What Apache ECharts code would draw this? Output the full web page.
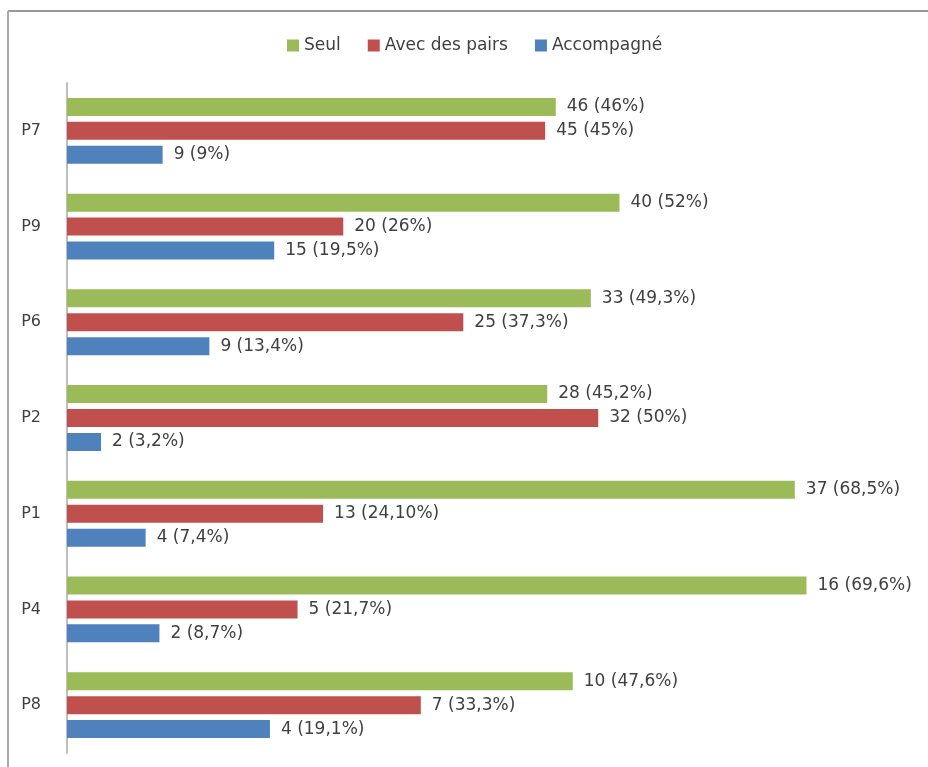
<!DOCTYPE html>
<html><head><meta charset="utf-8">
<script src="https://cdn.jsdelivr.net/npm/echarts@6/dist/echarts.min.js"></script>
<style>html,body{margin:0;padding:0;background:#fff}#c{width:928px;height:767px}</style>
</head><body><div id="c"></div>
<script>
const categories = ['P7','P9','P6','P2','P1','P4','P8'];
const seriesNames = ['Seul','Avec des pairs','Accompagné'];
const seulCount = [46,40,33,28,37,16,10];
const seulPct   = ['46','52','49,3','45,2','68,5','69,6','47,6'];
const pairsCount = [45,20,25,32,13,5,7];
const pairsPct   = ['45','26','37,3','50','24,10','21,7','33,3'];
const accCount = [9,15,9,2,4,2,4];
const accPct   = ['9','19,5','13,4','3,2','7,4','8,7','19,1'];
const colors = ['#9BBB59','#C0504D','#4F81BD'];

const FONT = 'DejaVu Sans';
const toNum = s => parseFloat(s.replace(',', '.'));
function mk(name, counts, pcts, color){
  return {
    name, type:'bar', barWidth:18, barGap:'33%',
    itemStyle:{color},
    data: pcts.map((p,i)=>({value: toNum(p), c: counts[i], p})),
    label:{show:true, position:'right', distance:11, color:'#404040',
      fontFamily:FONT, fontSize:17,
      formatter: d => d.data.c + ' (' + d.data.p + '%)'}
  };
}
const chart = echarts.init(document.getElementById('c'));
chart.setOption({
  animation:false,
  legend:{top:32, left:282, itemWidth:12, itemHeight:12, itemGap:27,
    icon:'rect', textStyle:{color:'#404040', fontFamily:FONT, fontSize:17},
    data: seriesNames},
  grid:{left:67, top:83, width:850, height:670},
  xAxis:{type:'value', min:0, max:80, show:false},
  yAxis:{type:'category', data:categories, inverse:true,
    axisLine:{lineStyle:{color:'#BFBFBF', width:2}}, axisTick:{show:false},
    axisLabel:{color:'#404040', fontFamily:FONT, fontSize:16, margin:26}},
  series:[
    mk(seriesNames[0], seulCount, seulPct, colors[0]),
    mk(seriesNames[1], pairsCount, pairsPct, colors[1]),
    mk(seriesNames[2], accCount, accPct, colors[2])
  ],
  graphic:[
    {type:'line', shape:{x1:8, y1:11, x2:928, y2:11}, style:{stroke:'#999', lineWidth:2}},
    {type:'line', shape:{x1:8, y1:11, x2:8, y2:767}, style:{stroke:'#AAA', lineWidth:2}}
  ]
});
</script></body></html>
